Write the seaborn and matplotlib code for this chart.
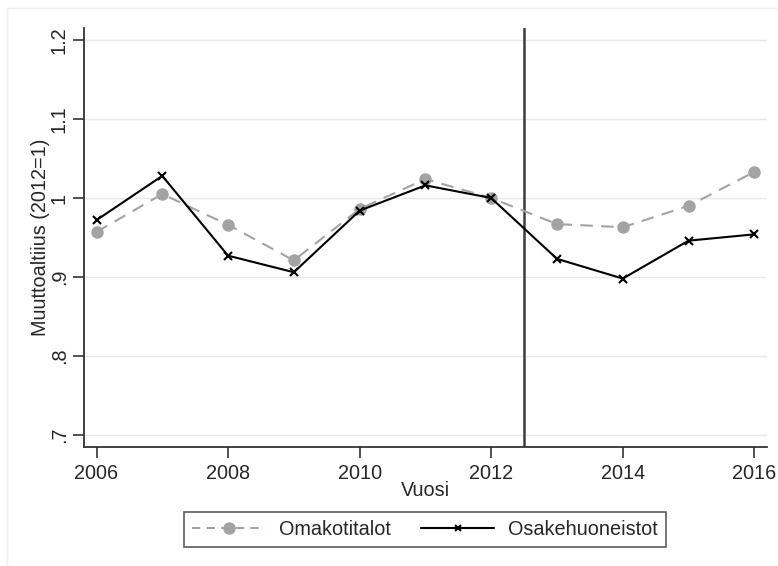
import matplotlib
matplotlib.use("Agg")
import matplotlib.pyplot as plt
from matplotlib.lines import Line2D
import seaborn as sns
import pandas as pd

# Relative mobility by dwelling type, index 2012 = 1
years = [2006, 2007, 2008, 2009, 2010, 2011, 2012, 2013, 2014, 2015, 2016]
omakotitalot = [0.957, 1.005, 0.966, 0.921, 0.986, 1.024, 1.000, 0.967, 0.963, 0.990, 1.033]
osakehuoneistot = [0.972, 1.028, 0.927, 0.906, 0.984, 1.016, 1.000, 0.923, 0.898, 0.946, 0.954]
x_ticks = [2006, 2008, 2010, 2012, 2014, 2016]
y_ticks = [0.7, 0.8, 0.9, 1.0, 1.1, 1.2]
y_tick_labels = [".7", ".8", ".9", "1", "1.1", "1.2"]
reform_year = 2012.5

sns.set_style("white")
plt.rcParams["font.family"] = ["Liberation Sans", "DejaVu Sans"]
FS = 14.3

df_omk = pd.DataFrame({"Vuosi": years, "value": omakotitalot})
df_osa = pd.DataFrame({"Vuosi": years, "value": osakehuoneistot})

fig = plt.figure(figsize=(7.78, 5.66), dpi=100)
fig.patch.set_facecolor("white")

# faint outer frame of the graph region
fig.add_artist(plt.Rectangle((7 / 778, -0.05), 1.2, 1 - 8 / 566 + 0.05,
                             transform=fig.transFigure, fill=False,
                             edgecolor="#eeeeee", linewidth=1.0))

ax = fig.add_axes([84 / 778, 1 - 447 / 566, (767 - 84) / 778, (447 - 28) / 566])

for yt in y_ticks:
    ax.axhline(yt, color="#e8e8e8", linewidth=1.0, zorder=0)

ax.axvline(reform_year, color="#3c3c3c", linewidth=1.8, zorder=1)

grey = "#a3a3a3"
sns.lineplot(data=df_omk, x="Vuosi", y="value", ax=ax, color=grey,
             linestyle=(0, (6, 4)), linewidth=1.5, marker="o", markersize=9,
             markeredgewidth=0, markerfacecolor=grey, zorder=2)
sns.lineplot(data=df_osa, x="Vuosi", y="value", ax=ax, color="black",
             linewidth=1.5, marker="x", markersize=6, markeredgewidth=1.5,
             markeredgecolor="black", zorder=3)

ax.set_xlim(2006 - 12.5 / 65.78, 2016 + 12.7 / 65.78)
ax.set_ylim(0.7 - 12 / 790, 1.2 + 12 / 790)

ax.set_xticks(x_ticks)
ax.set_xticklabels([str(x) for x in x_ticks], fontsize=FS)
ax.set_yticks(y_ticks)
ax.set_yticklabels(y_tick_labels, fontsize=FS, rotation=90, va="center")

ax.tick_params(axis="both", which="both", direction="out", length=8,
               width=1.2, color="#333333", pad=4, bottom=True, left=True)
ax.tick_params(axis="y", pad=3)

for side in ["top", "right"]:
    ax.spines[side].set_visible(False)
for side in ["left", "bottom"]:
    ax.spines[side].set_color("#333333")
    ax.spines[side].set_linewidth(1.3)

ax.set_xlabel("Vuosi", fontsize=FS, labelpad=-1)
ax.set_ylabel("Muuttoaltiius (2012=1)", fontsize=FS, labelpad=0)

handles = [
    Line2D([], [], color=grey, linestyle=(0, (4, 3)), linewidth=1.5,
           marker="o", markersize=9, markeredgewidth=0, markerfacecolor=grey),
    Line2D([], [], color="black", linewidth=1.5, marker="x", markersize=5,
           markeredgewidth=1.5),
]
leg = fig.legend(handles, ["Omakotitalot", "Osakehuoneistot"], ncol=2,
                 loc="center", bbox_to_anchor=(425 / 778, 1 - 529.5 / 566),
                 fontsize=FS, frameon=True, fancybox=False, handlelength=3.7,
                 columnspacing=1.5, handletextpad=0.7, borderpad=0.4)
leg.get_frame().set_edgecolor("#333333")
leg.get_frame().set_linewidth(1.2)

fig.savefig("out.png", dpi=100, facecolor="white")
